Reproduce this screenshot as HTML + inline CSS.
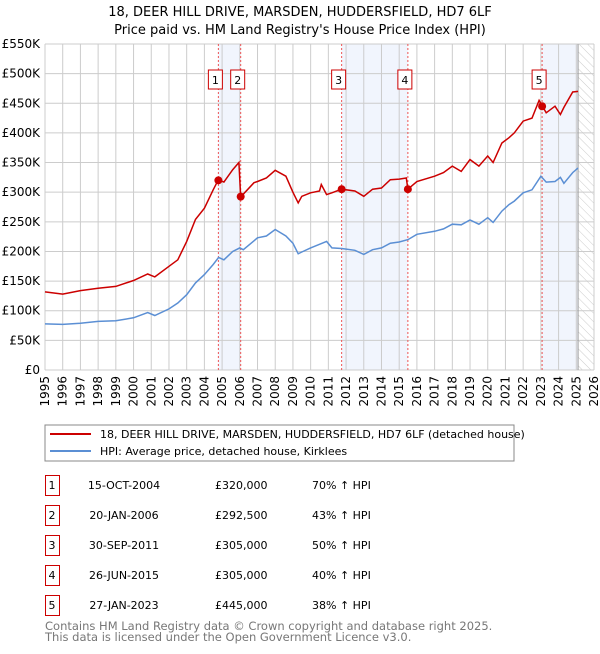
<!DOCTYPE html>
<html><head><meta charset="utf-8"><style>
body{margin:0;background:#fff;font-family:"DejaVu Sans","Liberation Sans",sans-serif;}
svg text{font-family:"DejaVu Sans","Liberation Sans",sans-serif;}
</style></head><body>
<svg id="c" width="600" height="650" viewBox="0 0 600 650" xmlns="http://www.w3.org/2000/svg">
<defs><pattern id="hatch" width="6" height="6" patternUnits="userSpaceOnUse" patternTransform="rotate(-45)"><line x1="0" y1="0" x2="0" y2="6" stroke="#ccc" stroke-width="1"/></pattern></defs>
<text x="300" y="16" text-anchor="middle" font-size="13">18, DEER HILL DRIVE, MARSDEN, HUDDERSFIELD, HD7 6LF</text>
<text x="300" y="34" text-anchor="middle" font-size="13">Price paid vs. HM Land Registry's House Price Index (HPI)</text>
<g id="plot"></g>
<g>
<rect x="45" y="425" width="469" height="36" fill="#fff" stroke="#888"/>
<line x1="50" y1="434" x2="91" y2="434" stroke="#cc0000" stroke-width="2"/>
<text x="100" y="438" font-size="11">18, DEER HILL DRIVE, MARSDEN, HUDDERSFIELD, HD7 6LF (detached house)</text>
<line x1="50" y1="451" x2="91" y2="451" stroke="#5b8fd4" stroke-width="2"/>
<text x="100" y="455" font-size="11">HPI: Average price, detached house, Kirklees</text>
</g>
<g id="table"></g>
<text x="45" y="630" font-size="11.5" fill="#777">Contains HM Land Registry data © Crown copyright and database right 2025.</text>
<text x="45" y="641" font-size="11.5" fill="#777">This data is licensed under the Open Government Licence v3.0.</text>
</svg>
<script>
const hpiYears=[1995,1996,1997,1998,1999,2000,2000.8,2001.2,2002,2002.5,2003,2003.5,2004,2004.5,2004.8,2005.1,2005.6,2006,2006.2,2006.8,2007,2007.5,2008,2008.6,2009,2009.3,2009.5,2010,2010.5,2010.9,2011.2,2011.75,2012.5,2013,2013.5,2014,2014.5,2015,2015.5,2016,2017,2017.5,2018,2018.5,2019,2019.5,2020,2020.3,2020.8,2021.2,2021.5,2022,2022.5,2023,2023.3,2023.8,2024.1,2024.3,2024.8,2025.1];
const hpiValues=[77.7,77,79,82,83,88,97,92,103,113,127,147,161,178,190,186,200,206,203,218,223,226,237,226,214,196,199,206,212,217,206,205,202,195,203,206,214,216,220,229,234,238,246,245,253,246,257,249,268,279,285,299,304,327,317,318,325,315,333,341];
const propYears=[1995,1996,1997,1998,1999,2000,2000.8,2001.2,2002,2002.5,2003,2003.5,2004,2004.5,2004.79,2005.1,2005.6,2005.95,2006.05,2006.8,2007,2007.5,2008,2008.6,2009,2009.3,2009.5,2010,2010.5,2010.6,2010.9,2011.2,2011.75,2012.5,2013,2013.5,2014,2014.5,2015,2015.4,2015.49,2016,2017,2017.5,2018,2018.5,2019,2019.5,2020,2020.3,2020.8,2021.2,2021.5,2022,2022.5,2022.9,2023.07,2023.3,2023.8,2024.1,2024.3,2024.8,2025.1];
const propValues=[131.7,128,134,138,141,151,162,157,175,186,217,254,273,304,321,317,338,350,292,316,318,324,337,327,300,282,293,299,302,313,296,299,305,302,293,305,307,321,322,324,305,318,327,333,344,335,355,344,361,350,383,392,400,420,425,455,446,434,445,431,443,469,470];
const saleYears=[2004.79,2006.05,2011.75,2015.49,2023.07];
const salePrices=[320,292.5,305,305,445];
const saleLabels=["1","2","3","4","5"];
const saleDates=["15-OCT-2004","20-JAN-2006","30-SEP-2011","26-JUN-2015","27-JAN-2023"];
const salePriceText=["£320,000","£292,500","£305,000","£305,000","£445,000"];
const salePct=["70% ↑ HPI","43% ↑ HPI","50% ↑ HPI","40% ↑ HPI","38% ↑ HPI"];
const yTicks=[0,50,100,150,200,250,300,350,400,450,500,550];
const yTickLabels=["£0","£50K","£100K","£150K","£200K","£250K","£300K","£350K","£400K","£450K","£500K","£550K"];
const xTicks=[1995,1996,1997,1998,1999,2000,2001,2002,2003,2004,2005,2006,2007,2008,2009,2010,2011,2012,2013,2014,2015,2016,2017,2018,2019,2020,2021,2022,2023,2024,2025,2026];
const dataEnd=2025.1;

const NS="http://www.w3.org/2000/svg";
const X0=45,X1=594,Y0=370,Y1=44;
const xs=v=>X0+(v-1995)/(2026-1995)*(X1-X0);
const ys=v=>Y0-v/550*(Y0-Y1);
const plot=document.getElementById('plot');
function mk(tag,attrs,parent){const e=document.createElementNS(NS,tag);for(const k in attrs)e.setAttribute(k,attrs[k]);(parent||plot).appendChild(e);return e;}
// shading
const shades=[[0,1],[2,3]];
shades.forEach((p,i)=>{const r=mk('rect',{x:xs(saleYears[p[0]]),y:Y1,width:xs(saleYears[p[1]])-xs(saleYears[p[0]]),height:Y0-Y1,fill:'#eef3fd',opacity:0.8});

});
let r5=mk('rect',{x:xs(saleYears[4]),y:Y1,width:xs(dataEnd)-xs(saleYears[4]),height:Y0-Y1,fill:'#eef3fd',opacity:0.8});


let h=mk('rect',{x:xs(dataEnd),y:Y1,width:X1-xs(dataEnd),height:Y0-Y1,fill:'url(#hatch)'});


// grid
xTicks.forEach(t=>{const l=mk('line',{x1:xs(t),x2:xs(t),y1:Y1,y2:Y0,stroke:'#ccc','stroke-width':1});


const tx=mk('text',{x:0,y:0,'font-size':12,'text-anchor':'end',transform:`translate(${xs(t)+4},${Y0+6}) rotate(-90)`});
tx.textContent=t;

});
yTicks.forEach((t,i)=>{const l=mk('line',{x1:X0,x2:X1,y1:ys(t),y2:ys(t),stroke:'#ccc','stroke-width':1});


const tx=mk('text',{x:40,y:ys(t)+4,'font-size':12,'text-anchor':'end'});
tx.textContent=yTickLabels[i];

});
let el=mk('line',{x1:xs(dataEnd),x2:xs(dataEnd),y1:Y1,y2:Y0,stroke:'#999','stroke-width':1});


// sale lines
saleYears.forEach((s,i)=>{const l=mk('line',{x1:xs(s),x2:xs(s),y1:Y1,y2:Y0,stroke:'#e55','stroke-width':1,'stroke-dasharray':'2,2'});


const b=mk('rect',{x:xs(s)-10,y:70,width:14,height:19,fill:'#fff',stroke:'#c00'});


const t=mk('text',{x:xs(s)-3,y:84,'font-size':11,'text-anchor':'middle'});
t.textContent=saleLabels[i];

});
// lines
const path=(yrs,vals)=>yrs.map((y,i)=>(i?'L':'M')+xs(y).toFixed(1)+','+ys(vals[i]).toFixed(1)).join('');
let hp=mk('path',{d:path(hpiYears,hpiValues),fill:'none',stroke:'#5b8fd4','stroke-width':1.5});


let pp=mk('path',{d:path(propYears,propValues),fill:'none',stroke:'#cc0000','stroke-width':1.5});


saleYears.forEach((s,i)=>{const c=mk('circle',{cx:xs(s),cy:ys(salePrices[i]),r:4,fill:'#cc0000'});

});
// table
const tb=document.getElementById('table');
saleLabels.forEach((lab,i)=>{const cy=485+i*30;
const b=mk('rect',{x:45.5,y:cy-9.5,width:14,height:20,fill:'#fff',stroke:'#c00'},tb);


const cells=[[52,lab,'middle','num'],[124,saleDates[i],'middle','date'],[215,salePriceText[i],'start','price'],[312,salePct[i],'start','hpi-change']];
cells.forEach(c=>{const t=mk('text',{x:c[0],y:cy+4,'font-size':11,'text-anchor':c[2]},tb);
t.textContent=c[1];

});});
</script>
</body></html>
